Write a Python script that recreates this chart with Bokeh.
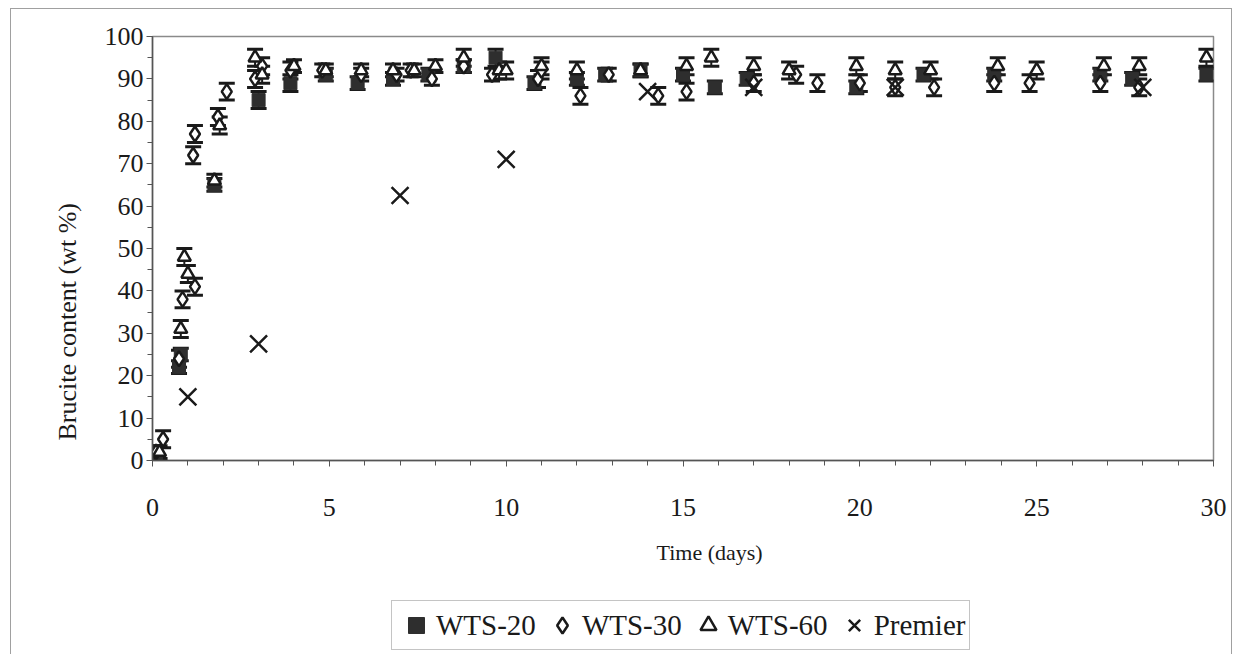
from bokeh.plotting import figure
from bokeh.layouts import column
from bokeh.models import (ColumnDataSource, Whisker, TeeHead, Legend, LegendItem,
                          SingleIntervalTicker, Range1d, Title, InlineStyleSheet)
from bokeh.embed import file_html
from bokeh.resources import INLINE

# ---------------- data ----------------
wts20_t = [0.1, 0.75, 0.8, 1.75, 3.0, 3.9, 4.9, 5.8, 6.8, 7.8, 8.8, 9.7, 10.8, 12.0,
           12.8, 13.8, 15.0, 15.9, 16.8, 19.9, 21.8, 23.8, 26.8, 27.7, 29.8]
wts20_v = [1, 22, 25, 65, 85, 89, 91, 89, 90, 91, 93, 95, 89, 90,
           91, 92, 91, 88, 90, 88, 91, 91, 91, 90, 91]
wts20_e = [1, 1.5, 1.5, 1.5, 2, 2, 1.5, 1.5, 1.5, 1.5, 1.5, 2, 1.5, 1.5,
           1.5, 1.5, 1.5, 1.5, 1.5, 1.5, 1.5, 1.5, 1.5, 1.5, 1.5]

wts30_t = [0.1, 0.3, 0.75, 0.85, 1.2, 1.15, 1.2, 1.85, 2.1, 2.9, 3.1, 3.9, 4.8, 5.9, 6.9,
           7.3, 7.9, 8.8, 9.6, 10.9, 11.0, 12.1, 12.9, 14.3, 15.1, 17.0, 18.2,
           18.8, 20.0, 21.0, 22.1, 23.8, 24.8, 26.8, 27.9]
wts30_v = [2, 5, 24, 38, 41, 72, 77, 81, 87, 90, 93, 92, 92, 91, 91,
           92, 90, 93, 91, 90, 92, 86, 91, 86, 87, 89, 91,
           89, 89, 88, 88, 89, 89, 89, 88]
wts30_e = [1.5, 2, 2, 2, 2, 2, 2, 2, 2, 2, 2, 2, 1.5, 1.5, 1.5,
           1.5, 1.5, 1.5, 1.5, 2, 2, 2, 1.5, 2, 2, 2, 2,
           2, 2, 2, 2, 2, 2, 2, 2]

wts60_t = [0.2, 0.8, 0.9, 1.0, 1.75, 1.9, 2.9, 3.1, 4.0, 4.9, 5.9, 6.8, 7.4, 8.0, 8.8,
           9.8, 10.0, 11.0, 12.0, 13.8, 15.1, 15.8, 17.0, 18.0, 19.9, 21.0, 22.0,
           23.9, 25.0, 26.9, 27.9, 29.8]
wts60_v = [2, 31, 48, 44, 66, 79, 95, 91, 93, 92, 92, 92, 92, 93, 95,
           92, 92, 93, 92, 92, 93, 95, 93, 92, 93, 92, 92,
           93, 92, 93, 93, 95]
wts60_e = [1.5, 2, 2, 2, 1.5, 2, 2, 2, 1.5, 1.5, 1.5, 1.5, 1.5, 1.5, 2,
           2, 2, 2, 2, 1.5, 2, 2, 2, 2, 2, 2, 2,
           2, 2, 2, 2, 2]

premier_t = [1, 3, 7, 10, 14, 17, 21, 28]
premier_v = [15, 27.5, 62.5, 71, 87, 88, 88, 88]

x_label = "Time (days)"
y_label = "Brucite content (wt %)"
names = ["WTS-20", "WTS-30", "WTS-60", "Premier"]

FONT = "Liberation Serif"
INK = "#1a1a1a"

p = figure(width=1241, height=590, output_backend="svg", toolbar_location=None,
           x_range=Range1d(0, 30), y_range=Range1d(0, 100),
           min_border_left=152, min_border_right=28, min_border_top=36,
           min_border_bottom=130)
p.xgrid.visible = False
p.ygrid.visible = False
p.outline_line_color = "#8a8a8a"
p.outline_line_width = 1.5
p.background_fill_color = "white"
p.border_fill_color = "white"

for ax in (p.xaxis[0], p.yaxis[0]):
    ax.axis_line_color = "#555555"
    ax.axis_line_width = 1.5
    ax.major_tick_in = 0
    ax.major_tick_out = 6
    ax.minor_tick_in = 0
    ax.minor_tick_out = 5
    ax.major_tick_line_color = "#555555"
    ax.minor_tick_line_color = "#555555"
    ax.major_label_text_font = FONT
    ax.major_label_text_font_size = "26px"
    ax.major_label_text_color = INK

p.xaxis.ticker = SingleIntervalTicker(interval=5, num_minor_ticks=5)
p.yaxis.ticker = SingleIntervalTicker(interval=10, num_minor_ticks=2)
p.xaxis.major_label_standoff = 32
p.yaxis.major_label_standoff = 3

xt = Title(text=x_label, align="left", offset=504, text_font=FONT,
           text_font_size="22px", text_font_style="normal", text_color=INK, standoff=38)
p.add_layout(xt, "below")

yt = Title(text=y_label, align="left", offset=20, text_font=FONT,
           text_font_size="26px", text_font_style="normal", text_color=INK, standoff=40)
p.add_layout(yt, "left")

def add_errors(t, v, e):
    src = ColumnDataSource(dict(t=t, lo=[a - b for a, b in zip(v, e)],
                                hi=[a + b for a, b in zip(v, e)]))
    w = Whisker(base="t", lower="lo", upper="hi", source=src, line_color=INK, line_width=2,
                upper_head=TeeHead(size=16, line_color=INK, line_width=3),
                lower_head=TeeHead(size=16, line_color=INK, line_width=3))
    p.add_layout(w)

add_errors(wts20_t, wts20_v, wts20_e)
add_errors(wts30_t, wts30_v, wts30_e)
add_errors(wts60_t, wts60_v, wts60_e)

sq = dict(marker="square", fill_color="#2e2e2e", line_color="#2e2e2e", line_width=1)
dm = dict(marker="diamond", fill_color="white", line_color=INK, line_width=2.5)
tr = dict(marker="triangle", fill_color="white", line_color=INK, line_width=2.5)
xx = dict(marker="x", line_color=INK, line_width=2.5)

p.scatter(wts20_t, wts20_v, size=13, **sq)
p.scatter(wts30_t, wts30_v, size=15, **dm)
p.scatter(wts60_t, wts60_v, size=13, **tr)
p.scatter(premier_t, premier_v, size=24, **xx)

# legend strip below the chart (its own ranges keep the series out of view)
q = figure(width=1241, height=64, output_backend="svg", toolbar_location=None,
           x_axis_type=None, y_axis_type=None, min_border=0,
           x_range=Range1d(-20, -10), y_range=Range1d(-20, -10))
q.outline_line_color = None
q.xgrid.visible = False
q.ygrid.visible = False
q.border_fill_color = "white"
q.background_fill_color = "white"
lr = [q.scatter(wts20_t, wts20_v, **sq), q.scatter(wts30_t, wts30_v, **dm),
      q.scatter(wts60_t, wts60_v, **tr), q.scatter(premier_t, premier_v, **xx)]
legend = Legend(items=[LegendItem(label=n, renderers=[r]) for n, r in zip(names, lr)],
                orientation="horizontal", location=(239, 4),
                label_text_font=FONT, label_text_font_size="29px",
                label_text_color=INK, border_line_color="#8a8a8a", border_line_width=1.5,
                glyph_width=40, glyph_height=40, label_standoff=0, spacing=6,
                padding=4, margin=0, background_fill_alpha=1)
q.add_layout(legend, "center")

lay = column(p, q, spacing=0)
lay.stylesheets = [InlineStyleSheet(css=""":host { position: relative; }
:host::after { content: ""; position: absolute; left: 10px; top: 8px; right: 9px; bottom: -20px;
  border: 1px solid #a0a0a0; pointer-events: none; z-index: 50; }""")]

open("out.html", "w").write(file_html(lay, INLINE))
